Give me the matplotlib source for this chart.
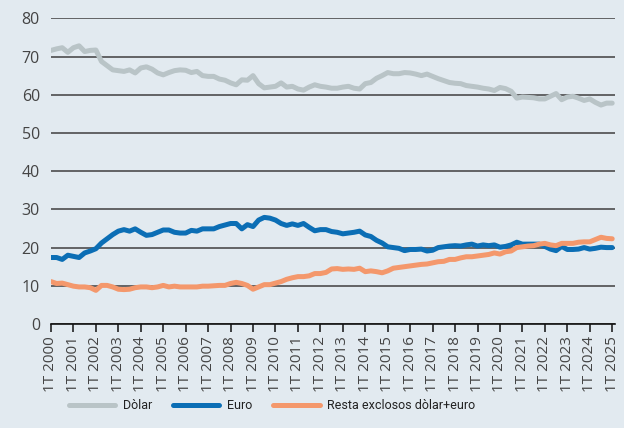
import matplotlib
matplotlib.use("Agg")
import matplotlib.pyplot as plt

years = list(range(2000, 2026))
tick_labels = [f"1T {y}" for y in years]

dolar = [71.6, 72.0, 72.3, 71.1, 72.3, 72.8, 71.3, 71.6,
         71.7, 68.7, 67.6, 66.5, 66.3, 66.1, 66.5, 65.7,
         67.0, 67.3, 66.7, 65.7, 65.2, 65.8, 66.3, 66.5,
         66.4, 65.8, 66.1, 65.0, 64.8, 64.8, 64.1, 63.8,
         63.1, 62.6, 63.9, 63.8, 65.0, 62.9, 61.8, 62.0,
         62.2, 63.1, 62.0, 62.2, 61.5, 61.2, 62.0, 62.6,
         62.2, 62.0, 61.7, 61.7, 62.0, 62.2, 61.7, 61.5,
         62.9, 63.2, 64.3, 65.0, 65.8, 65.5, 65.5, 65.8,
         65.7, 65.4, 65.0, 65.4, 64.8, 64.2, 63.7, 63.2,
         63.0, 62.9, 62.4, 62.2, 62.0, 61.7, 61.5, 61.1,
         61.9, 61.6, 60.9, 59.1, 59.4, 59.3, 59.2, 58.9,
         58.9, 59.6, 60.3, 58.7, 59.4, 59.6, 59.1, 58.5,
         58.9, 58.0, 57.3, 57.8, 57.8]

euro = [17.4, 17.4, 16.9, 18.0, 17.7, 17.4, 18.6, 19.1,
        19.7, 21.2, 22.3, 23.4, 24.3, 24.7, 24.3, 24.9,
        24.0, 23.2, 23.4, 24.0, 24.6, 24.6, 24.0, 23.8,
        23.8, 24.5, 24.3, 24.9, 24.9, 24.9, 25.5, 25.9,
        26.3, 26.3, 24.9, 26.0, 25.5, 27.2, 27.9, 27.7,
        27.2, 26.3, 25.8, 26.2, 25.8, 26.3, 25.3, 24.4,
        24.7, 24.7, 24.2, 24.0, 23.6, 23.8, 24.0, 24.3,
        23.3, 22.9, 21.9, 21.2, 20.2, 20.0, 19.8, 19.2,
        19.5, 19.5, 19.6, 19.1, 19.3, 20.0, 20.2, 20.4,
        20.5, 20.4, 20.7, 20.9, 20.4, 20.7, 20.5, 20.7,
        20.1, 20.3, 20.7, 21.4, 20.9, 20.9, 20.9, 20.9,
        20.3, 19.6, 19.2, 20.3, 19.5, 19.5, 19.6, 20.0,
        19.6, 19.8, 20.1, 20.0, 20.0]

resta = [11.1, 10.6, 10.7, 10.3, 9.9, 9.7, 9.7, 9.5,
         8.8, 10.1, 10.1, 9.7, 9.1, 9.0, 9.1, 9.5,
         9.7, 9.7, 9.5, 9.7, 10.1, 9.7, 9.9, 9.7,
         9.7, 9.7, 9.7, 9.9, 9.9, 10.0, 10.1, 10.1,
         10.6, 10.9, 10.6, 10.1, 9.1, 9.7, 10.3, 10.3,
         10.7, 11.1, 11.7, 12.1, 12.4, 12.4, 12.6, 13.2,
         13.2, 13.5, 14.4, 14.5, 14.3, 14.4, 14.3, 14.6,
         13.7, 13.9, 13.7, 13.4, 13.9, 14.6, 14.8, 15.0,
         15.2, 15.4, 15.6, 15.7, 16.0, 16.3, 16.4, 16.9,
         16.9, 17.3, 17.6, 17.6, 17.8, 18.0, 18.2, 18.6,
         18.3, 18.9, 19.1, 20.0, 20.2, 20.4, 20.5, 20.9,
         21.1, 20.7, 20.5, 21.1, 21.1, 21.1, 21.4, 21.5,
         21.5, 22.1, 22.7, 22.4, 22.3]

series_names = ["Dòlar", "Euro", "Resta exclosos dòlar+euro"]
colors = ["#B9C4C7", "#0B6EB5", "#F4986C"]

bg = "#E2EAF0"
plt.rcParams['font.family'] = ['Open Sans', 'DejaVu Sans']

fig = plt.figure(figsize=(6.24, 4.28), dpi=100, facecolor=bg)
ax = fig.add_axes([51/624, 104/428, (615-51)/624, (324-18.3)/428])
ax.set_facecolor(bg)

x = list(range(len(dolar)))
for vals, name, c in zip([dolar, euro, resta], series_names, colors):
    ax.plot(x, vals, color=c, lw=3.6, label=name, solid_capstyle='round', zorder=3)

ax.set_ylim(0, 80)
ax.set_xlim(0, 100.5)
ax.set_yticks(range(0, 81, 10))
ax.yaxis.grid(True, color="#3f3f3f", lw=1.1)
ax.set_axisbelow(True)
for s in ["top", "right", "left"]:
    ax.spines[s].set_visible(False)
ax.spines["bottom"].set_color("#111111")
ax.spines["bottom"].set_linewidth(1.2)
ax.tick_params(axis='y', length=0, labelsize=11.5, labelcolor="#444444", pad=8)
ax.set_xticks([4 * i for i in range(len(years))])
ax.set_xticklabels(tick_labels, rotation=90, fontsize=11, color="#444444")
ax.tick_params(axis='x', length=6, width=1.1, color="#111111", pad=3)

handles, labels = ax.get_legend_handles_labels()
fig.legend(handles, labels, loc='center', bbox_to_anchor=(0.436, 0.052), ncol=3,
           frameon=False, prop={'family': ['Roboto', 'DejaVu Sans'], 'size': 9.0},
           handlelength=3.7, columnspacing=1.7, handletextpad=0.6,
           labelcolor="#222222")

fig.savefig("out.png", dpi=100, facecolor=bg)
